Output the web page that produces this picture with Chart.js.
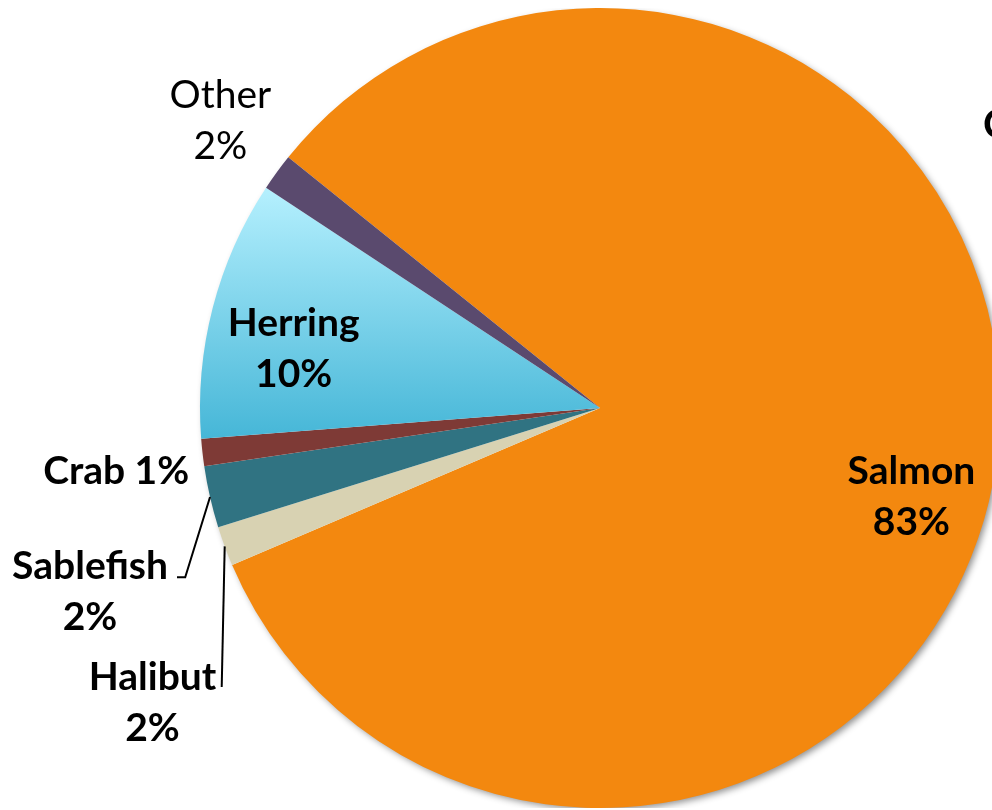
<!DOCTYPE html>
<html>
<head>
<meta charset="utf-8">
<script src="https://cdn.jsdelivr.net/npm/chart.js@4/dist/chart.umd.min.js"></script>
<style>
    html, body { margin: 0; padding: 0; background: #fff; overflow: hidden; width: 992px; height: 810px; }
    #wrap { position: absolute; left: 0; top: 8px; width: 1200px; height: 800px; }
</style>
</head>
<body>
<div id="wrap"><canvas id="fishChart"></canvas></div>
<script>
// catch share by species (clockwise from the top of the salmon slice)
const species = ['Salmon', 'Halibut', 'Sablefish', 'Crab', 'Herring', 'Other'];
const shares = [82.8, 1.6, 2.5, 1.1, 10.5, 1.5];
// percentages as printed on the labels
const shownPct = [83, 2, 2, 1, 10, 2];
const sliceColors = ['#F3880F', '#D8D2B2', '#307382', '#7E3A36', 'herring', '#5A4A6E'];
const titleText = 'C';

// where each label sits: angle in degrees (canvas, clockwise from 3 o'clock) and distance as share of radius
const labelLayout = {
    Salmon:    { angle: 16.0,  dist: 0.81,  bold: true },
    Herring:   { angle: 190.9, dist: 0.78,  bold: true },
    Other:     { angle: 217.1, dist: 1.19,  bold: false },
    Crab:      { angle: 172.5, dist: 1.22,  bold: true, oneLine: true },
    Sablefish: { angle: 160.2, dist: 1.355, bold: true, leader: [[157.8, 1.12], [158.2, 1.139]] },
    Halibut:   { angle: 146.6, dist: 1.34,  bold: true, leader: [[143.6, 1.175]] }
};

const FONT = 'Lato, "Open Sans", sans-serif';

function polar(cx, cy, r, deg, f) {
    const a = deg * Math.PI / 180;
    return [cx + Math.cos(a) * r * f, cy + Math.sin(a) * r * f];
}

// herring slice fades from pale cyan at the top to deeper blue at the bottom
function sliceColor(ctx) {
    const c = sliceColors[ctx.dataIndex];
    if (c !== 'herring') return c;
    const area = ctx.chart.chartArea;
    if (!area) return '#7FD3EC';
    const cy = (area.top + area.bottom) / 2;
    const r = Math.min(area.right - area.left, area.bottom - area.top) / 2;
    const g = ctx.chart.ctx.createLinearGradient(0, cy - r * 0.55, 0, cy + r * 0.08);
    g.addColorStop(0, '#B5F0FE');
    g.addColorStop(1, '#45B6D7');
    return g;
}

// soft shadow under the whole pie
const pieShadow = {
    id: 'pieShadow',
    beforeDatasetsDraw(chart) {
        const arc = chart.getDatasetMeta(0).data[0];
        if (!arc) return;
        const ctx = chart.ctx;
        ctx.save();
        ctx.shadowColor = 'rgba(0,0,0,0.45)';
        ctx.shadowBlur = 7;
        ctx.shadowOffsetX = 3;
        ctx.shadowOffsetY = 3;
        ctx.beginPath();
        ctx.arc(arc.x, arc.y, arc.outerRadius - 1, 0, Math.PI * 2);
        ctx.fillStyle = '#fff';
        ctx.fill();
        ctx.restore();
    }
};

// slice labels and leader lines
const sliceLabels = {
    id: 'sliceLabels',
    afterDatasetsDraw(chart) {
        const ctx = chart.ctx;
        const arcs = chart.getDatasetMeta(0).data;
        ctx.save();
        ctx.textAlign = 'center';
        ctx.textBaseline = 'middle';
        ctx.fillStyle = '#000';
        arcs.forEach((arc, i) => {
            const name = species[i];
            const lay = labelLayout[name];
            const pct = shownPct[i] + '%';
            const [x, y] = polar(arc.x, arc.y, arc.outerRadius, lay.angle, lay.dist);
            ctx.font = (lay.bold ? 'bold ' : '') + '39px ' + FONT;
            if (lay.oneLine) {
                ctx.fillText(name + ' ' + pct, x, y);
            } else {
                ctx.fillText(name, x, y - 25.5);
                ctx.fillText(pct, x, y + 25.5);
            }
            if (lay.leader) {
                const mid = (arc.startAngle + arc.endAngle) / 2 * 180 / Math.PI;
                ctx.beginPath();
                ctx.lineWidth = 2;
                ctx.strokeStyle = '#000';
                ctx.moveTo(...polar(arc.x, arc.y, arc.outerRadius, mid, 1));
                lay.leader.forEach(p => ctx.lineTo(...polar(arc.x, arc.y, arc.outerRadius, p[0], p[1])));
                ctx.stroke();
            }
        });
        // title, mostly off the right edge
        ctx.font = 'bold 40px ' + FONT;
        ctx.textAlign = 'left';
        ctx.fillText(titleText, 983, 117);
        ctx.restore();
    }
};

const ctx = document.getElementById('fishChart').getContext('2d');
const fishChart = new Chart(ctx, {
    type: 'pie',
    data: {
        labels: species,
        datasets: [{ data: shares, backgroundColor: sliceColor, borderWidth: 0 }]
    },
    options: {
        responsive: true,
        maintainAspectRatio: false,
        animation: false,
        rotation: -51.2,
        layout: { padding: 0 },
        plugins: {
            legend: { display: false },
            tooltip: { enabled: false }
        }
    },
    plugins: [pieShadow, sliceLabels]
});
</script>
</body>
</html>
